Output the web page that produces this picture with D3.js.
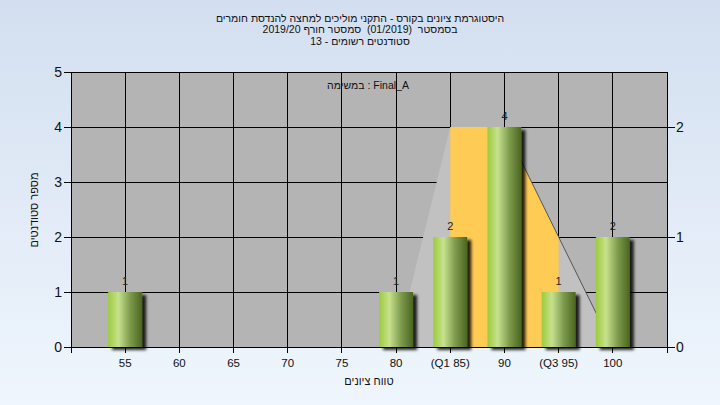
<!DOCTYPE html>
<html><head><meta charset="utf-8">
<script src="https://cdn.jsdelivr.net/npm/d3@7"></script>
<style>html,body{margin:0;padding:0;}svg{display:block;}</style>
</head><body>
<svg id="chart" width="720" height="405"></svg>
<script>
// ---- data ----
const categories = ["55","60","65","70","75","80","(Q1 85)","90","(Q3 95)","100"];
const counts = [1,0,0,0,0,1,2,4,1,2];
const curveCategories = ["80","(Q1 85)","90","(Q3 95)","100"];
const curveValues = [0,2,2,1,0];
const leftTicks = [0,1,2,3,4,5];
const rightTicks = [0,1,2];
const q1Label = "(Q1 85)", q3Label = "(Q3 95)";
const titleLines = [
  "היסטוגרמת ציונים בקורס - התקני מוליכים למחצה להנדסת חומרים",
  "בסמסטר  (01/2019)  סמסטר חורף 2019/20",
  "סטודנטים רשומים - 13"
];
const taskLabel = "במשימה : Final_A";
const yTitle = "מספר סטודנטים";
const xTitle = "טווח ציונים";

const svg = d3.select("#chart");
const W = 720, H = 405;
const L = 71, R = 667, T = 72, B = 347;
const font = "'Liberation Sans', Arial, sans-serif";

// Draw text word by word, laid out left to right in the order given
function wordText(parent, str, cx, y, size, anchor) {
  const g = parent.append("g").attr("font-family", font).attr("font-size", size).attr("fill", "#111");
  const probe = g.append("text").text("a a");
  const probe2 = g.append("text").text("aa");
  const sp = probe.node().getComputedTextLength() - probe2.node().getComputedTextLength();
  probe.remove(); probe2.remove();
  const tokens = str.split(" ");
  let pos = 0;
  const items = [];
  tokens.forEach(tok => {
    if (tok === "") { pos += sp; return; }
    const t = g.append("text").attr("y", y).text(tok);
    const w = t.node().getComputedTextLength();
    items.push([t, pos]);
    pos += w + sp;
  });
  const total = pos - sp;
  const start = anchor === "middle" ? cx - total / 2 : cx;
  items.forEach(([t, p]) => t.attr("x", start + p));
  return g;
}
function rtlText(parent, str, cx, y, size) {
  return parent.append("text").attr("x", cx).attr("y", y).attr("direction", "rtl")
    .attr("text-anchor", "middle").attr("font-family", font).attr("font-size", size)
    .style("white-space", "pre").attr("fill", "#111").text(str);
}

const defs = svg.append("defs");
const bg = defs.append("linearGradient").attr("id","bg").attr("x1",0).attr("y1",0).attr("x2",0).attr("y2",1);
bg.append("stop").attr("offset","0%").attr("stop-color","#d3dff0");
bg.append("stop").attr("offset","100%").attr("stop-color","#eff6fd");
const bar = defs.append("linearGradient").attr("id","bar").attr("x1",0).attr("y1",0).attr("x2",1).attr("y2",0);
[["0%","#9ccb3c"],["30%","#c7e18e"],["65%","#7d9a4c"],["100%","#4a6520"]].forEach(s=>bar.append("stop").attr("offset",s[0]).attr("stop-color",s[1]));
const f = defs.append("filter").attr("id","sh").attr("x","-50%").attr("y","-50%").attr("width","200%").attr("height","200%");
f.append("feGaussianBlur").attr("in","SourceAlpha").attr("stdDeviation",1.8).attr("result","b");
f.append("feOffset").attr("in","b").attr("dx",4).attr("dy",3).attr("result","o");
f.append("feComponentTransfer").attr("in","o").attr("result","oa").append("feFuncA").attr("type","linear").attr("slope",0.85);
const fm = f.append("feMerge"); fm.append("feMergeNode").attr("in","oa"); fm.append("feMergeNode").attr("in","SourceGraphic");

svg.append("rect").attr("width",W).attr("height",H).attr("fill","url(#bg)");

// scales
const x = d3.scalePoint().domain(categories).range([L,R]).padding(1);
const yL = d3.scaleLinear().domain([0,5]).range([B,T]);
const yR = d3.scaleLinear().domain([0,2.5]).range([B,T]);

// plot bg
svg.append("rect").attr("x",L).attr("y",T).attr("width",R-L).attr("height",B-T).attr("fill","#b4b4b4");

// gridlines
const g = svg.append("g").attr("stroke","#000").attr("stroke-width",1).attr("shape-rendering","crispEdges");
leftTicks.forEach(t=>g.append("line").attr("x1",L).attr("x2",R).attr("y1",yL(t)).attr("y2",yL(t)));
categories.forEach(c=>g.append("line").attr("x1",x(c)).attr("x2",x(c)).attr("y1",T).attr("y2",B));

// curve area
const pts = curveCategories.map((c,i)=>[x(c), yR(curveValues[i])]);
const area = d3.area().x(d=>d[0]).y0(B).y1(d=>d[1]);
svg.append("path").attr("d",area(pts)).attr("fill","#c1c1c1");
defs.append("clipPath").attr("id","qclip").append("rect")
  .attr("x",x(q1Label)).attr("y",T).attr("width",x(q3Label)-x(q1Label)).attr("height",B-T);
svg.append("path").attr("d",area(pts)).attr("fill","#fecb55").attr("clip-path","url(#qclip)");
const peak = curveValues.lastIndexOf(d3.max(curveValues));
svg.append("path").attr("d",d3.line()(pts.slice(peak))).attr("fill","none").attr("stroke","#555").attr("stroke-width",1);

// axes lines
const ax = svg.append("g").attr("stroke","#000").attr("stroke-width",1).attr("shape-rendering","crispEdges");
ax.append("line").attr("x1",L).attr("x2",L).attr("y1",T).attr("y2",B+6);
ax.append("line").attr("x1",R).attr("x2",R).attr("y1",T).attr("y2",B+6);
ax.append("line").attr("x1",L).attr("x2",R).attr("y1",B).attr("y2",B);
ax.append("line").attr("x1",L).attr("x2",R).attr("y1",T).attr("y2",T);
leftTicks.forEach(t=>ax.append("line").attr("x1",L-7).attr("x2",L).attr("y1",yL(t)).attr("y2",yL(t)));
rightTicks.forEach(t=>ax.append("line").attr("x1",R).attr("x2",R+8).attr("y1",yR(t)).attr("y2",yR(t)));
categories.forEach(c=>ax.append("line").attr("x1",x(c)).attr("x2",x(c)).attr("y1",B).attr("y2",B+6));

// bars
const bw = 34;
const data = categories.map((c,i)=>({c, v:counts[i]})).filter(d=>d.v>0);
svg.append("g").selectAll("rect").data(data).join("rect")
  .attr("x",d=>x(d.c)-bw/2).attr("y",d=>yL(d.v)).attr("width",bw).attr("height",d=>B-yL(d.v))
  .attr("fill","url(#bar)").attr("filter","url(#sh)");
svg.append("g").selectAll("text").data(data).join("text")
  .attr("x",d=>x(d.c)).attr("y",d=>yL(d.v)-7).attr("text-anchor","middle")
  .attr("font-family",font).attr("font-size",11).attr("fill","#222").text(d=>d.v);

// labels
const txt = svg.append("g").attr("font-family",font).attr("fill","#111");
leftTicks.forEach(t=>txt.append("text").attr("x",L-9).attr("y",yL(t)+5).attr("text-anchor","end").attr("font-size",14).text(t));
rightTicks.forEach(t=>txt.append("text").attr("x",R+9).attr("y",yR(t)+5).attr("text-anchor","start").attr("font-size",14).text(t));
categories.forEach(c=>txt.append("text").attr("x",x(c)).attr("y",B+20).attr("text-anchor","middle").attr("font-size",11.5).text(c));
rtlText(svg, xTitle, (L+R)/2, 385, 11);
const yt = svg.append("g").attr("transform","translate(38,210) rotate(-90)");
rtlText(yt, yTitle, 0, 0, 11);
wordText(svg, taskLabel, 368, 89, 10.5, "middle");
titleLines.forEach((s,i)=>rtlText(svg, s, 360, 21.5+i*11.7, 10.5));
</script>
</body></html>
